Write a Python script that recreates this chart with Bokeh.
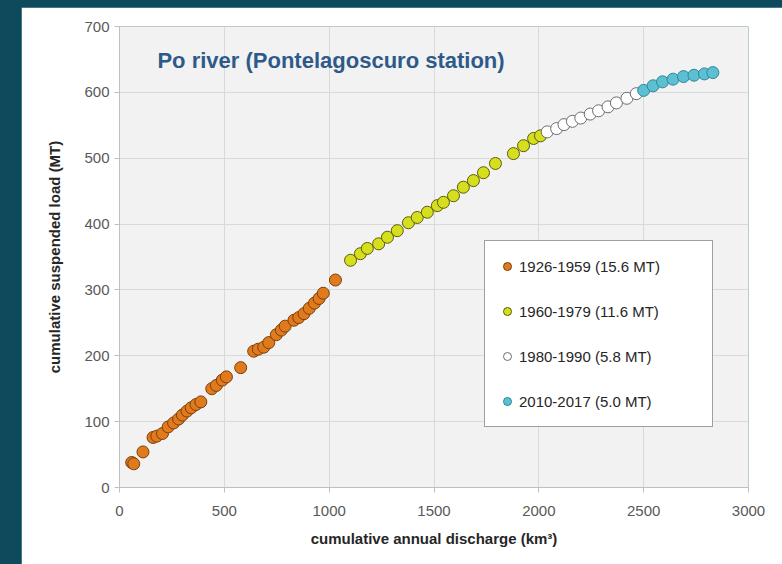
from bokeh.plotting import figure
from bokeh.models import Legend, LegendItem, Label, FixedTicker, Range1d
from bokeh.layouts import column
from bokeh.embed import file_html
from bokeh.resources import INLINE

# Cumulative annual discharge (km³) vs cumulative suspended load (MT), Po river
x_1926_1959 = [58, 68, 112, 160, 178, 205, 232, 258, 282, 300, 322, 342, 365, 388, 440, 462, 490,
               510, 578, 640, 662, 688, 712, 748, 772, 790, 832, 855, 880, 905, 930, 952, 972, 1030]
y_1926_1959 = [38, 36, 54, 76, 78, 82, 92, 98, 104, 110, 116, 121, 126, 130, 150, 155, 163,
               168, 182, 207, 210, 213, 220, 232, 239, 245, 254, 258, 264, 272, 280, 287, 295, 315]

x_1960_1979 = [1102, 1149, 1182, 1236, 1278, 1325, 1378, 1420, 1468, 1516, 1545, 1593, 1640,
               1688, 1736, 1793, 1879, 1927, 1975, 2008]
y_1960_1979 = [345, 355, 363, 370, 380, 390, 402, 410, 418, 428, 433, 443, 456,
               466, 478, 492, 507, 519, 530, 534]

x_1980_1990 = [2040, 2085, 2120, 2160, 2200, 2245, 2285, 2330, 2370, 2420, 2465]
y_1980_1990 = [540, 545, 551, 556, 561, 567, 572, 578, 584, 591, 598]

x_2010_2017 = [2500, 2545, 2590, 2640, 2690, 2740, 2790, 2830]
y_2010_2017 = [603, 610, 616, 620, 624, 626, 628, 630]

legend_labels = ["1926-1959 (15.6 MT)", "1960-1979 (11.6 MT)",
                 "1980-1990 (5.8 MT)", "2010-2017 (5.0 MT)"]
x_ticks = [0, 500, 1000, 1500, 2000, 2500, 3000]
y_ticks = [0, 100, 200, 300, 400, 500, 600, 700]

FONT = "Liberation Sans"

p = figure(width=761, height=557, output_backend="svg", toolbar_location=None,
           x_range=Range1d(0, 3000), y_range=Range1d(0, 700),
           background_fill_color="#f2f2f2", border_fill_color="white",
           min_border_left=98, min_border_right=34, min_border_top=19, min_border_bottom=77)
p.margin = (7, 0, 0, 21)
p.outline_line_color = None

p.xgrid.grid_line_color = "#d9d9d9"
p.ygrid.grid_line_color = "#d9d9d9"
p.xaxis.ticker = FixedTicker(ticks=x_ticks)
p.yaxis.ticker = FixedTicker(ticks=y_ticks)

for ax in (p.xaxis[0], p.yaxis[0]):
    ax.axis_line_color = "#bfbfbf"
    ax.major_tick_line_color = "#bfbfbf"
    ax.major_tick_out = 5
    ax.major_tick_in = 0
    ax.minor_tick_line_color = None
    ax.major_label_text_font = FONT
    ax.major_label_text_font_size = "15px"
    ax.major_label_text_color = "#595959"
    ax.axis_label_text_font = FONT
    ax.axis_label_text_font_size = "15px"
    ax.axis_label_text_font_style = "bold"
    ax.axis_label_text_color = "#262626"

p.xaxis.axis_label = "cumulative annual discharge (km³)"
p.yaxis.axis_label = "cumulative suspended load (MT)"
p.xaxis.major_label_standoff = 13
p.yaxis.major_label_standoff = 5
p.xaxis.axis_label_standoff = 11
p.yaxis.axis_label_standoff = 18

series = [
    (x_1926_1959, y_1926_1959, "#e07a1c", "#7a3f0c"),
    (x_1960_1979, y_1960_1979, "#d6df1e", "#5c5c05"),
    (x_1980_1990, y_1980_1990, "#ffffff", "#6e6e6e"),
    (x_2010_2017, y_2010_2017, "#5cc0d2", "#2f8798"),
]

items = []
for (xs, ys, fill, line), lab in zip(series, legend_labels):
    r = p.scatter(xs, ys, marker="circle", size=12, fill_color=fill,
                  line_color=line, line_width=1)
    items.append(LegendItem(label=lab, renderers=[r]))

legend = Legend(items=items, location=(365, 60), orientation="vertical",
                label_text_font=FONT, label_text_font_size="15px",
                label_text_color="#262626", glyph_width=20, glyph_height=26,
                label_height=26, label_width=181, label_standoff=2, spacing=19,
                padding=12, margin=0,
                border_line_color="#404040", border_line_width=1,
                background_fill_color="white", background_fill_alpha=1)
p.add_layout(legend)

title = Label(x=181, y=648, text="Po river (Pontelagoscuro station)",
              text_font=FONT, text_font_size="22px", text_font_style="bold",
              text_color="#2e5a8a", text_baseline="middle", text_align="left")
p.add_layout(title)

page = column(p, styles={"background-color": "#0c4a5c"}, width=782, height=564)

open("out.html", "w").write(file_html(page, INLINE))
